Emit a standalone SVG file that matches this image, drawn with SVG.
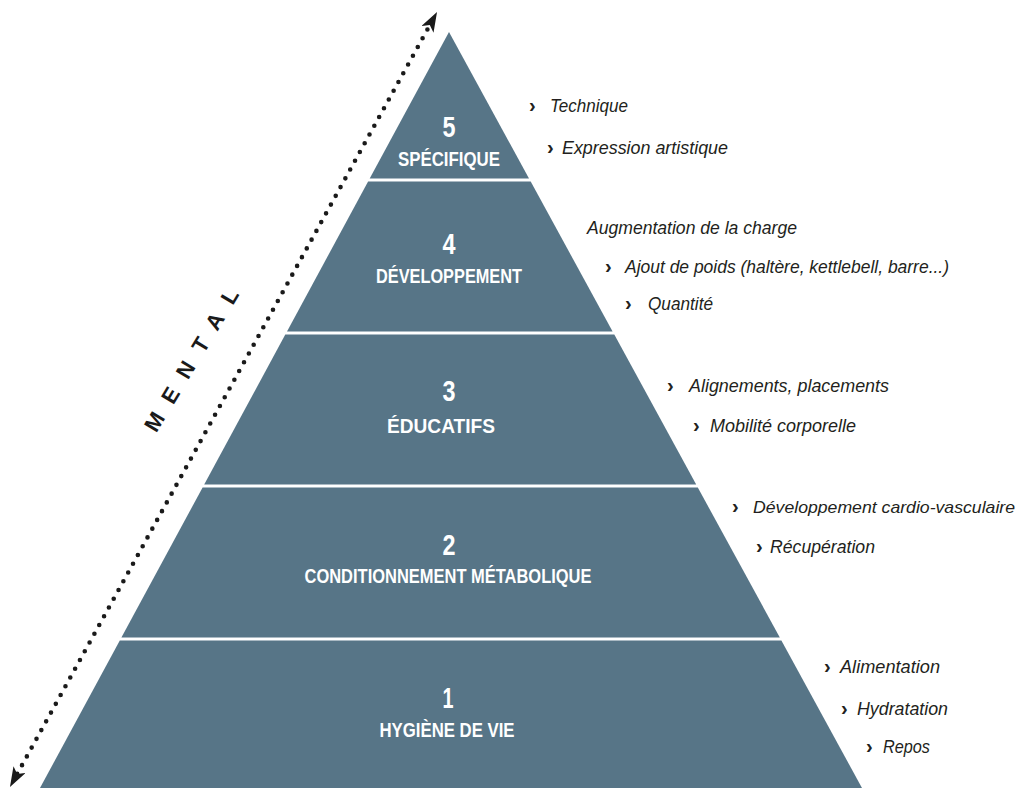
<svg xmlns="http://www.w3.org/2000/svg" width="1022" height="788" viewBox="0 0 1022 788">
<style>
.lvl{fill:#577587}
.num{font-family:"Liberation Sans",Arial,sans-serif;font-weight:bold;font-size:30px;fill:#ffffff;text-anchor:middle}
.lab{font-family:"Liberation Sans",Arial,sans-serif;font-weight:bold;font-size:20px;fill:#ffffff;text-anchor:middle}
.note{font-family:"Liberation Sans",Arial,sans-serif;font-style:italic;font-size:19px;fill:#231f20}
.chev{font-family:"Liberation Sans",Arial,sans-serif;font-weight:bold;font-size:20px;fill:#231f20}
.mental{font-family:"Liberation Sans",Arial,sans-serif;font-weight:bold;font-size:22px;fill:#1a1a1a;text-anchor:middle}
.dots{fill:none;stroke:#1a1a1a;stroke-width:4.6;stroke-linecap:round;stroke-dasharray:0 10}
</style>
<defs>
<marker id="ah" viewBox="0 0 20 14" refX="5" refY="7" markerWidth="20" markerHeight="14" markerUnits="userSpaceOnUse" orient="auto-start-reverse">
<path d="M0,0 L20,7 L0,14 L5,7 Z" fill="#1a1a1a"/>
</marker>
</defs>

<g id="level5">
<polygon class="lvl" points="449,32 529,178.5 369.7,178.5"/>
<text class="num" x="449" y="137" textLength="13" lengthAdjust="spacingAndGlyphs">5</text>
<text class="lab" x="449" y="166" textLength="102" lengthAdjust="spacingAndGlyphs">SPÉCIFIQUE</text>
</g>
<g id="level4">
<polygon class="lvl" points="368.1,181.5 530.7,181.5 612.6,331.5 287,331.5"/>
<text class="num" x="449" y="254" textLength="13" lengthAdjust="spacingAndGlyphs">4</text>
<text class="lab" x="449" y="283" textLength="146" lengthAdjust="spacingAndGlyphs">DÉVELOPPEMENT</text>
</g>
<g id="level3">
<polygon class="lvl" points="285.3,334.5 614.3,334.5 696.2,484.5 204.2,484.5"/>
<text class="num" x="449" y="401" textLength="13" lengthAdjust="spacingAndGlyphs">3</text>
<text class="lab" x="441" y="433" textLength="108" lengthAdjust="spacingAndGlyphs">ÉDUCATIFS</text>
</g>
<g id="level2">
<polygon class="lvl" points="202.6,487.5 697.8,487.5 779.8,637.5 121.4,637.5"/>
<text class="num" x="449" y="555" textLength="13" lengthAdjust="spacingAndGlyphs">2</text>
<text class="lab" x="448" y="583" textLength="287" lengthAdjust="spacingAndGlyphs">CONDITIONNEMENT MÉTABOLIQUE</text>
</g>
<g id="level1">
<polygon class="lvl" points="119.8,640.5 781.4,640.5 862,788 40,788"/>
<text class="num" x="448" y="708" textLength="11" lengthAdjust="spacingAndGlyphs">1</text>
<text class="lab" x="447" y="737" textLength="135" lengthAdjust="spacingAndGlyphs">HYGIÈNE DE VIE</text>
</g>

<g id="connectors">
<path class="dots" d="M17.2,773.9 L429.8,25.1" marker-start="url(#ah)" marker-end="url(#ah)"/>
</g>

<g id="mental">
<text class="mental" transform="translate(198,364) rotate(-59)" x="0" y="0" textLength="162" lengthAdjust="spacing">MENTAL</text>
</g>

<g id="notes5">
<text class="chev" x="529" y="112">›</text><text class="note" x="550" y="112" textLength="78" lengthAdjust="spacingAndGlyphs">Technique</text>
<text class="chev" x="547" y="154">›</text><text class="note" x="562" y="154" textLength="166" lengthAdjust="spacingAndGlyphs">Expression artistique</text>
</g>
<g id="notes4">
<text class="note" x="587" y="234" textLength="210" lengthAdjust="spacingAndGlyphs">Augmentation de la charge</text>
<text class="chev" x="605" y="273">›</text><text class="note" x="625" y="273" textLength="324" lengthAdjust="spacingAndGlyphs">Ajout de poids (haltère, kettlebell, barre...)</text>
<text class="chev" x="625" y="310">›</text><text class="note" x="648" y="310" textLength="65" lengthAdjust="spacingAndGlyphs">Quantité</text>
</g>
<g id="notes3">
<text class="chev" x="667" y="392">›</text><text class="note" x="689" y="392" textLength="200" lengthAdjust="spacingAndGlyphs">Alignements, placements</text>
<text class="chev" x="693" y="432">›</text><text class="note" x="710" y="432" textLength="146" lengthAdjust="spacingAndGlyphs">Mobilité corporelle</text>
</g>
<g id="notes2">
<text class="chev" x="732" y="513">›</text><text class="note" x="753" y="513" style="font-size:17px" textLength="262" lengthAdjust="spacingAndGlyphs">Développement cardio-vasculaire</text>
<text class="chev" x="756" y="553">›</text><text class="note" x="770" y="553" textLength="105" lengthAdjust="spacingAndGlyphs">Récupération</text>
</g>
<g id="notes1">
<text class="chev" x="824" y="673">›</text><text class="note" x="840" y="673" textLength="100" lengthAdjust="spacingAndGlyphs">Alimentation</text>
<text class="chev" x="841" y="715">›</text><text class="note" x="857" y="715" textLength="91" lengthAdjust="spacingAndGlyphs">Hydratation</text>
<text class="chev" x="866" y="753">›</text><text class="note" x="883" y="753" textLength="47" lengthAdjust="spacingAndGlyphs">Repos</text>
</g>
</svg>
